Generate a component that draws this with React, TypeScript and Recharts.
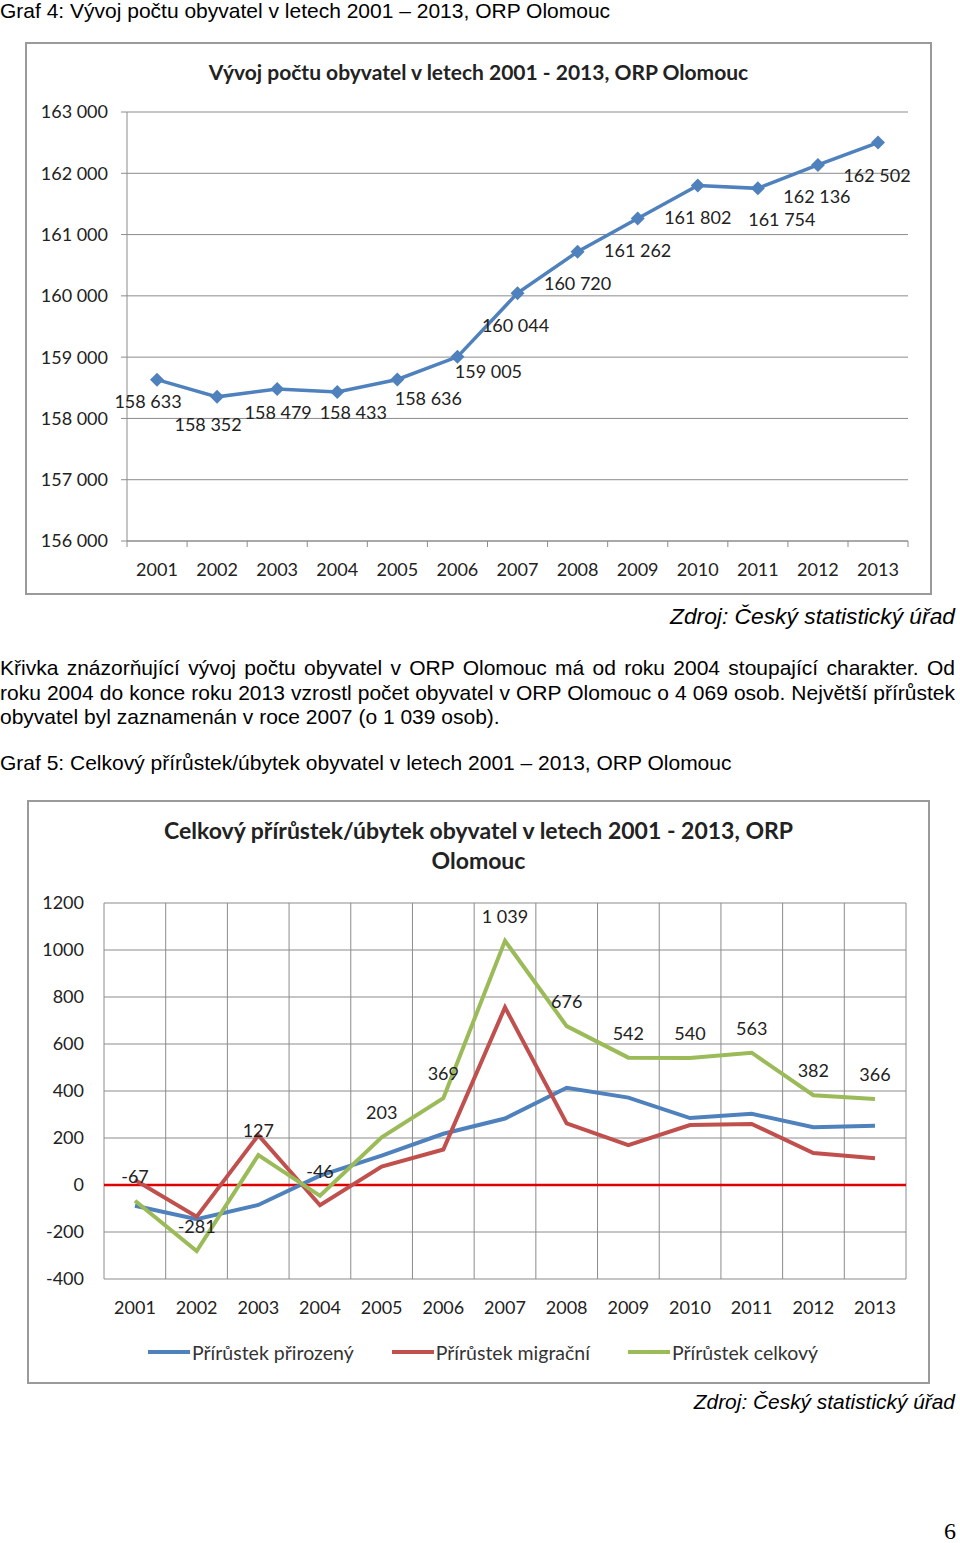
import React from 'react';
import {
  LineChart,
  Line,
  XAxis,
  YAxis,
  CartesianGrid,
  LabelList,
  ReferenceLine,
  Legend,
} from 'recharts';

const years = ['2001', '2002', '2003', '2004', '2005', '2006', '2007', '2008', '2009', '2010', '2011', '2012', '2013'];

// Graf 4
const population = [158633, 158352, 158479, 158433, 158636, 159005, 160044, 160720, 161262, 161802, 161754, 162136, 162502];
const populationTicks = [156000, 157000, 158000, 159000, 160000, 161000, 162000, 163000];

// Graf 5
const natural = [-88, -146, -85, 40, 125, 218, 283, 414, 372, 285, 303, 246, 252];
const migration = [21, -135, 212, -86, 78, 151, 756, 262, 170, 255, 260, 136, 114];
const total = [-67, -281, 127, -46, 203, 369, 1039, 676, 542, 540, 563, 382, 366];
const changeTicks = [-400, -200, 0, 200, 400, 600, 800, 1000, 1200];

const seriesNames = ['Přírůstek přirozený', 'Přírůstek migrační', 'Přírůstek celkový'];

// where each population label sits relative to its point (text centre)
const popLabelOffsets: [number, number][] = [
  [-9, 21], [-9, 27], [1, 23], [16, 20], [31, 19], [31, 14], [-2, 32],
  [0, 31], [0, 31], [0, 32], [24, 31], [-1, 31], [-1, 32],
];

const BLUE = '#4f81bd';
const RED = '#c0504d';
const GREEN = '#9bbb59';
const GRID = '#8c8c8c';
const CHART_FONT = 'Lato, "Open Sans", sans-serif';
const TEXT_FONT = '"Liberation Sans", Arial, sans-serif';
const PAD1 = 30;
const PAD2 = 31;

const popData = years.map((year, i) => ({ year, value: population[i] }));
const changeData = years.map((year, i) => ({
  year,
  natural: natural[i],
  migration: migration[i],
  total: total[i],
}));

const spaced = (v: number) => String(v).replace(/\B(?=(\d{3})+(?!\d))/g, ' ');

// category boundaries for the vertical grid of Graf 5
const bandEdges = ({ offset }: any) =>
  years.map((_, i) => i).concat(years.length).map((i) => offset.left + (offset.width * i) / years.length);

function Diamond(props: any) {
  const { cx, cy } = props;
  if (cx == null || cy == null) return null;
  const r = 7;
  return <path d={`M${cx},${cy - r}L${cx + r},${cy}L${cx},${cy + r}L${cx - r},${cy}Z`} fill={BLUE} />;
}

function PopLabel(props: any) {
  const { x, y, value, index } = props;
  const [dx, dy] = popLabelOffsets[index] ?? [0, 25];
  return (
    <text x={x + dx} y={y + dy} textAnchor="middle" dominantBaseline="central" fontSize={18} fill="#222">
      {spaced(value)}
    </text>
  );
}

// year label plus small tick marks on the category edges
function YearTick(props: any) {
  const { x, y, payload, index, visibleTicksCount } = props;
  const axisY = y - 22;
  return (
    <g>
      <line x1={x - PAD1} x2={x - PAD1} y1={axisY} y2={axisY + 6} stroke={GRID} />
      {index === visibleTicksCount - 1 && (
        <line x1={x + PAD1} x2={x + PAD1} y1={axisY} y2={axisY + 6} stroke={GRID} />
      )}
      <text x={x} y={y} textAnchor="middle" dy="0.71em" fontSize={18} fill="#222">
        {payload.value}
      </text>
    </g>
  );
}

function ChangeLegend() {
  const colors = [BLUE, RED, GREEN];
  return (
    <div style={{ display: 'flex', justifyContent: 'center', gap: 38, fontSize: 19.5, color: '#333', height: 40, alignItems: 'center', paddingLeft: 33 }}>
      {seriesNames.map((name, i) => (
        <div key={name} style={{ display: 'flex', alignItems: 'center' }}>
          <span style={{ display: 'inline-block', width: 42, height: 4, background: colors[i], marginRight: 2 }} />
          <span>{name}</span>
        </div>
      ))}
    </div>
  );
}

const frame: React.CSSProperties = {
  position: 'absolute',
  boxSizing: 'border-box',
  border: '2px solid #9a9a9a',
  background: '#fff',
};

const abs = (left: number, top: number, extra: React.CSSProperties = {}): React.CSSProperties => ({
  position: 'absolute',
  left,
  top,
  ...extra,
});

const justified: React.CSSProperties = { textAlign: 'justify', textAlignLast: 'justify', whiteSpace: 'nowrap' };

export default function App(): React.ReactElement {
  return (
    <div style={{ position: 'absolute', left: 0, top: 0, width: 960, height: 1543, background: '#fff', fontFamily: TEXT_FONT, color: '#000', overflow: 'hidden' }}>
      <div style={abs(0, -1, { fontSize: 21, lineHeight: '24px', whiteSpace: 'nowrap' })}>
        Graf 4: Vývoj počtu obyvatel v letech 2001 – 2013, ORP Olomouc
      </div>

      {/* Graf 4 */}
      <div style={{ ...frame, left: 25, top: 42, width: 907, height: 553 }} />
      <div style={abs(25, 59, { width: 907, textAlign: 'center', fontFamily: CHART_FONT, fontWeight: 700, fontSize: 21, color: '#222' })}>
        Vývoj počtu obyvatel v letech 2001 - 2013, ORP Olomouc
      </div>
      <div style={abs(25, 42, { fontFamily: CHART_FONT })}>
        <LineChart width={907} height={553} data={popData} margin={{ top: 70, right: 24, bottom: 10, left: 0 }}>
          <CartesianGrid vertical={false} stroke={GRID} />
          <XAxis
            dataKey="year"
            height={44}
            padding={{ left: PAD1, right: PAD1 }}
            axisLine={{ stroke: GRID }}
            tickLine={false}
            tickMargin={16}
            tick={<YearTick />}
            interval={0}
          />
          <YAxis
            width={102}
            domain={[156000, 163000]}
            ticks={populationTicks}
            tickFormatter={spaced}
            axisLine={{ stroke: GRID }}
            tickLine={{ stroke: GRID }}
            tickSize={6}
            tickMargin={13}
            tick={{ fontSize: 18, fill: '#222' }}
          />
          <Line
            dataKey="value"
            stroke={BLUE}
            strokeWidth={3.5}
            dot={<Diamond />}
            activeDot={false}
            isAnimationActive={false}
          >
            <LabelList dataKey="value" content={<PopLabel />} />
          </Line>
        </LineChart>
      </div>

      <div style={abs(0, 602, { width: 955, textAlign: 'right', fontSize: 22.8, fontStyle: 'italic', lineHeight: '28px' })}>
        Zdroj: Český statistický úřad
      </div>

      <div style={abs(0, 656, { width: 955, fontSize: 21, lineHeight: '24.5px' })}>
        <div style={justified}>
          Křivka znázorňující vývoj počtu obyvatel v ORP Olomouc má od roku 2004 stoupající charakter. Od
        </div>
        <div style={justified}>
          roku 2004 do konce roku 2013 vzrostl počet obyvatel v ORP Olomouc o 4 069 osob. Největší přírůstek
        </div>
        <div style={{ whiteSpace: 'nowrap' }}>obyvatel byl zaznamenán v roce 2007 (o 1 039 osob).</div>
      </div>

      <div style={abs(0, 751, { fontSize: 21, lineHeight: '24px', whiteSpace: 'nowrap' })}>
        Graf 5: Celkový přírůstek/úbytek obyvatel v letech 2001 – 2013, ORP Olomouc
      </div>

      {/* Graf 5 */}
      <div style={{ ...frame, left: 27, top: 800, width: 903, height: 584 }} />
      <div style={abs(27, 815, { width: 903, textAlign: 'center', fontFamily: CHART_FONT, fontWeight: 700, fontSize: 23, lineHeight: '30px', color: '#222' })}>
        Celkový přírůstek/úbytek obyvatel v letech 2001 - 2013, ORP
        <br />
        Olomouc
      </div>
      <div style={abs(27, 800, { fontFamily: CHART_FONT })}>
        <LineChart width={903} height={584} data={changeData} margin={{ top: 103, right: 24, bottom: 12, left: 0 }}>
          <CartesianGrid stroke={GRID} verticalCoordinatesGenerator={bandEdges} />
          <XAxis
            dataKey="year"
            height={53}
            padding={{ left: PAD2, right: PAD2 }}
            axisLine={false}
            tickLine={false}
            tickMargin={16}
            tick={{ fontSize: 18, fill: '#222' }}
            interval={0}
          />
          <YAxis
            width={77}
            domain={[-400, 1200]}
            ticks={changeTicks}
            axisLine={false}
            tickLine={false}
            tickMargin={14}
            tick={{ fontSize: 18, fill: '#222' }}
          />
          <ReferenceLine y={0} stroke="#e00000" strokeWidth={2.5} />
          <Legend verticalAlign="bottom" height={40} content={<ChangeLegend />} />
          <Line dataKey="natural" name={seriesNames[0]} stroke={BLUE} strokeWidth={4} dot={false} activeDot={false} isAnimationActive={false} />
          <Line dataKey="migration" name={seriesNames[1]} stroke={RED} strokeWidth={4} dot={false} activeDot={false} isAnimationActive={false} />
          <Line dataKey="total" name={seriesNames[2]} stroke={GREEN} strokeWidth={4} dot={false} activeDot={false} isAnimationActive={false}>
            <LabelList dataKey="total" position="top" offset={18} fontSize={18} fill="#222" formatter={(v: any) => spaced(Number(v))} />
          </Line>
        </LineChart>
      </div>

      <div style={abs(0, 1389, { width: 955, textAlign: 'right', fontSize: 20.9, fontStyle: 'italic', lineHeight: '26px' })}>
        Zdroj: Český statistický úřad
      </div>

      <div style={abs(0, 1517, { width: 956, textAlign: 'right', fontFamily: '"Liberation Serif", serif', fontSize: 24, lineHeight: '28px' })}>
        6
      </div>
    </div>
  );
}
